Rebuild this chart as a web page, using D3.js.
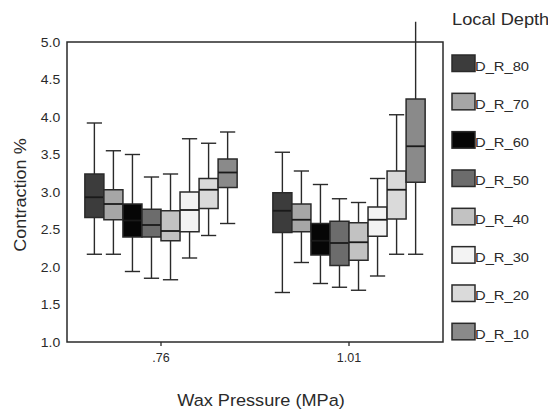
<!DOCTYPE html>
<html>
<head>
<meta charset="utf-8">
<script src="https://cdn.jsdelivr.net/npm/d3@7/dist/d3.min.js"></script>
<style>
  html, body { margin: 0; padding: 0; background: #fff; }
  svg { display: block; font-family: "Liberation Sans", Arial, sans-serif; }
</style>
</head>
<body>
<svg id="chart" width="548" height="412"></svg>
<script>
// Wax pressure groups (x axis)
const pressures = [".76", "1.01"];
// Local depth series (legend order)
const depths = ["D_R_80", "D_R_70", "D_R_60", "D_R_50", "D_R_40", "D_R_30", "D_R_20", "D_R_10"];
const depthFills = ["#3c3c3c", "#a6a6a6", "#060606", "#6c6c6c", "#c2c2c2", "#f3f3f3", "#dadada", "#8a8a8a"];
const yTicks = [1.0, 1.5, 2.0, 2.5, 3.0, 3.5, 4.0, 4.5, 5.0];

// Box statistics per depth: [low whisker, Q1, median, Q3, high whisker]
const stats076 = [
  [2.17, 2.66, 2.93, 3.24, 3.92],
  [2.17, 2.63, 2.84, 3.03, 3.55],
  [1.94, 2.40, 2.62, 2.84, 3.50],
  [1.85, 2.40, 2.56, 2.77, 3.20],
  [1.83, 2.35, 2.48, 2.75, 3.24],
  [2.12, 2.47, 2.76, 3.00, 3.71],
  [2.42, 2.78, 3.03, 3.18, 3.65],
  [2.58, 3.06, 3.26, 3.44, 3.80]
];
const stats101 = [
  [1.66, 2.46, 2.75, 2.99, 3.53],
  [2.06, 2.47, 2.63, 2.84, 3.28],
  [1.78, 2.16, 2.35, 2.58, 3.10],
  [1.73, 2.02, 2.32, 2.61, 2.91],
  [1.69, 2.09, 2.33, 2.59, 2.86],
  [1.88, 2.41, 2.63, 2.80, 3.18],
  [2.17, 2.64, 3.03, 3.28, 4.03],
  [2.17, 3.13, 3.61, 4.24, 5.27]
];
const groupStats = [stats076, stats101];

const svg = d3.select("#chart");
const ink = "#2a2a2a";
const fontFamily = "Liberation Sans, Arial, sans-serif";
const frame = { left: 67, right: 443, top: 42, bottom: 342 };

const y = d3.scaleLinear().domain([1, 5]).range([frame.bottom, frame.top]);
const x = d3.scaleBand().domain(pressures)
  .range([frame.left, frame.right])
  .paddingInner(0.19).paddingOuter(0.095);
const xi = d3.scaleBand().domain(depths).range([0, x.bandwidth()]);
const color = d3.scaleOrdinal().domain(depths).range(depthFills);

// text placed at (px, py) and widened horizontally by sx
function wideText(parent, px, py, sx, str, size, anchor) {
  return parent.append("text")
    .attr("transform", `translate(${px},${py}) scale(${sx},1)`)
    .attr("text-anchor", anchor || "start")
    .attr("font-size", size).attr("fill", ink)
    .attr("font-family", fontFamily)
    .text(str);
}

// y axis labels (no tick marks)
const yAxis = d3.axisLeft(y).tickValues(yTicks).tickFormat(d3.format(".1f")).tickSize(0).tickPadding(6);
const gy = svg.append("g").attr("transform", `translate(${frame.left},0)`).call(yAxis);
gy.select(".domain").remove();
gy.selectAll("text").attr("font-size", 12.5).attr("fill", ink)
  .attr("font-family", fontFamily).attr("transform", "scale(1.12,1)");

// x axis with short ticks below the frame
const xAxis = d3.axisBottom(x).tickSize(4).tickPadding(7);
const gx = svg.append("g").attr("transform", `translate(0,${frame.bottom})`).call(xAxis);
gx.select(".domain").remove();
gx.selectAll("line").attr("stroke", ink).attr("stroke-width", 1.3);
gx.selectAll("text").attr("font-size", 12.5).attr("fill", ink).attr("font-family", fontFamily);

// boxes
const data = [];
pressures.forEach((p, gi) => {
  depths.forEach((d, di) => {
    const s = groupStats[gi][di];
    data.push({ p, d, lo: s[0], q1: s[1], med: s[2], q3: s[3], hi: s[4] });
  });
});

const bw = xi.bandwidth();
const capW = bw * 0.8;
const boxes = svg.append("g").selectAll("g").data(data).join("g")
  .attr("transform", d => `translate(${x(d.p) + xi(d.d)},0)`);

// whiskers
boxes.append("line")
  .attr("x1", bw / 2).attr("x2", bw / 2)
  .attr("y1", d => y(d.hi)).attr("y2", d => y(d.lo))
  .attr("stroke", ink).attr("stroke-width", 1.4);
// caps (only where the whisker ends inside the value range)
boxes.each(function (d) {
  const g = d3.select(this);
  [d.lo, d.hi].filter(v => v <= 5).forEach(v => {
    g.append("line")
      .attr("x1", (bw - capW) / 2).attr("x2", (bw + capW) / 2)
      .attr("y1", y(v)).attr("y2", y(v))
      .attr("stroke", ink).attr("stroke-width", 1.4);
  });
});
// box
boxes.append("rect")
  .attr("x", 0).attr("width", bw)
  .attr("y", d => y(d.q3)).attr("height", d => y(d.q1) - y(d.q3))
  .attr("fill", d => color(d.d))
  .attr("stroke", ink).attr("stroke-width", 1.5);
// median
boxes.append("line")
  .attr("x1", 0).attr("x2", bw)
  .attr("y1", d => y(d.med)).attr("y2", d => y(d.med))
  .attr("stroke", "#1a1a1a").attr("stroke-width", 1.8);

// plot frame
svg.append("rect")
  .attr("x", frame.left).attr("y", frame.top)
  .attr("width", frame.right - frame.left).attr("height", frame.bottom - frame.top)
  .attr("fill", "none").attr("stroke", ink).attr("stroke-width", 1.5);

// axis titles
wideText(svg, 261, 406, 1.1, "Wax Pressure (MPa)", 16.5, "middle");
svg.append("text")
  .attr("transform", `translate(26,${(frame.top + frame.bottom) / 2 + 3}) rotate(-90) scale(1.13,1)`)
  .attr("text-anchor", "middle").attr("font-size", 16).attr("fill", ink)
  .attr("font-family", fontFamily)
  .text("Contraction %");

// legend
const legend = svg.append("g").attr("transform", "translate(451,0)");
wideText(legend, 1, 25, 1.14, "Local Depth", 16, "start");
const items = legend.selectAll("g.item").data(depths).join("g")
  .attr("class", "item")
  .attr("transform", (d, i) => `translate(0,${55 + i * 38.33})`);
items.append("rect")
  .attr("x", 1).attr("y", 0).attr("width", 23).attr("height", 16.5)
  .attr("fill", d => color(d)).attr("stroke", ink).attr("stroke-width", 1.5);
items.each(function (d) {
  wideText(d3.select(this), 24, 15.5, 1.18, d, 12.5, "start");
});
</script>
</body>
</html>
